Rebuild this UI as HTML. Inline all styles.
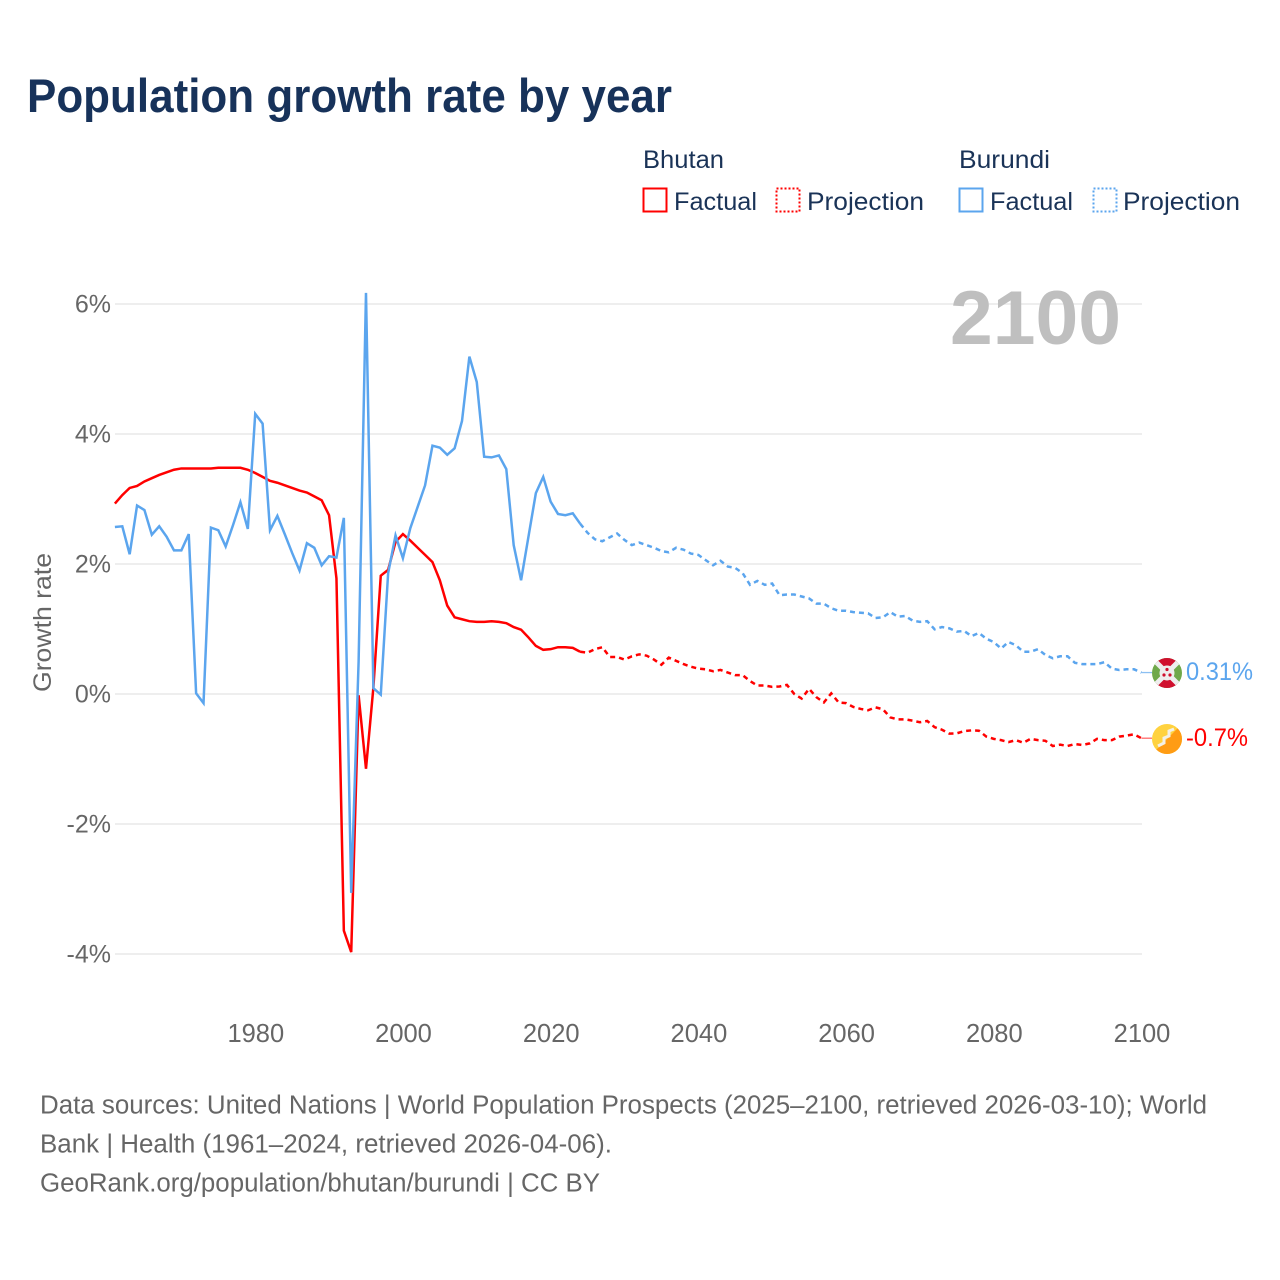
<!DOCTYPE html>
<html lang="en">
<head>
<meta charset="utf-8">
<title>Population growth rate by year</title>
<style>
html,body{margin:0;padding:0;background:#fff;}
svg{display:block;}
text{font-family:"Liberation Sans",sans-serif;}
</style>
</head>
<body>
<svg id="chart" width="1280" height="1280" viewBox="0 0 1280 1280" xmlns="http://www.w3.org/2000/svg">
<defs>
<clipPath id="flag-clip-burundi"><circle cx="1167" cy="673" r="15"/></clipPath>
<clipPath id="flag-clip-bhutan"><circle cx="1167" cy="739" r="15"/></clipPath>
</defs>
<rect x="0" y="0" width="1280" height="1280" fill="#ffffff"/>
<text x="27" y="112" font-size="47" font-weight="700" fill="#17325a" textLength="645" lengthAdjust="spacingAndGlyphs">Population growth rate by year</text>

<g>
<text x="643" y="168" font-size="25" fill="#1a3357" textLength="81" lengthAdjust="spacingAndGlyphs">Bhutan</text>
<rect x="643.5" y="188.5" width="23" height="23" fill="none" stroke="#ff0000" stroke-width="2"/>
<text x="674" y="210" font-size="25" fill="#1a3357" textLength="83" lengthAdjust="spacingAndGlyphs">Factual</text>
<rect x="776.5" y="188.5" width="23" height="23" fill="none" stroke="#ff0000" stroke-width="2" stroke-dasharray="2 2"/>
<text x="807" y="210" font-size="25" fill="#1a3357" textLength="117" lengthAdjust="spacingAndGlyphs">Projection</text>
<text x="959" y="168" font-size="25" fill="#1a3357" textLength="91" lengthAdjust="spacingAndGlyphs">Burundi</text>
<rect x="959.5" y="188.5" width="23" height="23" fill="none" stroke="#5ba5ee" stroke-width="2"/>
<text x="990" y="210" font-size="25" fill="#1a3357" textLength="83" lengthAdjust="spacingAndGlyphs">Factual</text>
<rect x="1093.5" y="188.5" width="23" height="23" fill="none" stroke="#5ba5ee" stroke-width="2" stroke-dasharray="2 2"/>
<text x="1123" y="210" font-size="25" fill="#1a3357" textLength="117" lengthAdjust="spacingAndGlyphs">Projection</text>
</g>

<g id="grid"></g>
<text x="950" y="344" font-size="76" font-weight="700" fill="#bfbfbf" textLength="171" lengthAdjust="spacingAndGlyphs">2100</text>
<g id="yticks"></g>
<g id="xticks"></g>
<text transform="translate(51,692) rotate(-90)" font-size="25" fill="#666666" textLength="139" lengthAdjust="spacingAndGlyphs">Growth rate</text>
<g id="series"></g>

<g>
<g clip-path="url(#flag-clip-burundi)">
<rect x="1152" y="658" width="30" height="30" fill="#6fa84a"/>
<path d="M1152 658H1182L1167 673Z" fill="#d0102e"/>
<path d="M1152 688H1182L1167 673Z" fill="#d0102e"/>
<path d="M1152 658L1182 688M1182 658L1152 688" stroke="#eeeeee" stroke-width="5"/>
<circle cx="1167" cy="673" r="7.5" fill="#eeeeee"/>
<circle cx="1167" cy="669.5" r="1.6" fill="#d0102e"/>
<circle cx="1164" cy="675" r="1.6" fill="#d0102e"/>
<circle cx="1170" cy="675" r="1.6" fill="#d0102e"/>
</g>
<text x="1186" y="680" font-size="25" fill="#5ba5ee" textLength="67" lengthAdjust="spacingAndGlyphs">0.31%</text>
</g>

<g>
<g clip-path="url(#flag-clip-bhutan)">
<rect x="1152" y="724" width="30" height="30" fill="#ffd23f"/>
<path d="M1182 724V754H1152Z" fill="#ff9c14"/>
<path d="M1174 729L1169 731L1169 736L1164 738L1164 743L1158 746" fill="none" stroke="#f4f0e6" stroke-width="3"/>
</g>
<text x="1186" y="746" font-size="25" fill="#ff0000" textLength="62" lengthAdjust="spacingAndGlyphs">-0.7%</text>
</g>

<g>
<text x="40" y="1113.5" font-size="25.5" fill="#666666" textLength="1167" lengthAdjust="spacingAndGlyphs">Data sources: United Nations | World Population Prospects (2025–2100, retrieved 2026-03-10); World</text>
<text x="40" y="1152.5" font-size="25.5" fill="#666666" textLength="572" lengthAdjust="spacingAndGlyphs">Bank | Health (1961–2024, retrieved 2026-04-06).</text>
<text x="40" y="1191.5" font-size="25.5" fill="#666666" textLength="560" lengthAdjust="spacingAndGlyphs">GeoRank.org/population/bhutan/burundi | CC BY</text>
</g>

<script>
const factualStartYear = 1961;
const projectionStartYear = 2024;
const yTicks = [-4, -2, 0, 2, 4, 6];
const xTicks = [1980, 2000, 2020, 2040, 2060, 2080, 2100];
const bhutanFactual = [
2.93,3.06,3.17,3.20,3.27,3.32,3.37,3.41,3.45,3.47,
3.47,3.47,3.47,3.47,3.48,3.48,3.48,3.48,3.45,3.40,
3.34,3.28,3.25,3.21,3.17,3.13,3.10,3.04,2.98,2.75,
1.78,-3.64,-3.97,-0.02,-1.15,0.10,1.82,1.91,2.34,2.46,
2.36,2.25,2.14,2.03,1.75,1.36,1.18,1.15,1.12,1.11,
1.11,1.12,1.11,1.09,1.03,0.99,0.87,0.74,0.68,0.69,
0.72,0.72,0.71,0.65];
const burundiFactual = [
2.57,2.58,2.15,2.90,2.83,2.45,2.58,2.42,2.21,2.21,
2.46,0.01,-0.14,2.56,2.52,2.27,2.60,2.95,2.54,4.31,
4.16,2.52,2.74,2.46,2.17,1.90,2.32,2.25,1.98,2.12,
2.10,2.71,-3.06,0.50,6.17,0.09,-0.01,1.86,2.44,2.09,
2.55,2.88,3.21,3.82,3.79,3.68,3.78,4.20,5.19,4.80,
3.65,3.64,3.67,3.46,2.29,1.75,2.42,3.09,3.34,2.96,
2.77,2.75,2.78,2.62];
const bhutanProjection = [
0.65,0.635,0.69,0.72,0.57,0.57,0.53,0.58,0.61,0.59,
0.53,0.45,0.56,0.51,0.46,0.42,0.39,0.38,0.35,0.37,
0.33,0.29,0.29,0.20,0.13,0.13,0.11,0.115,0.14,0.00,
-0.07,0.08,-0.05,-0.13,0.01,-0.13,-0.14,-0.20,-0.23,-0.25,
-0.205,-0.235,-0.36,-0.39,-0.39,-0.41,-0.435,-0.415,-0.51,-0.55,
-0.61,-0.605,-0.57,-0.56,-0.565,-0.655,-0.69,-0.71,-0.74,-0.71,
-0.75,-0.69,-0.71,-0.72,-0.80,-0.78,-0.80,-0.77,-0.785,-0.76,
-0.69,-0.71,-0.71,-0.655,-0.64,-0.62,-0.68];
const burundiProjection = [
2.62,2.48,2.38,2.35,2.41,2.47,2.37,2.29,2.33,2.29,
2.25,2.20,2.18,2.25,2.22,2.16,2.14,2.06,1.98,2.05,
1.96,1.94,1.86,1.68,1.74,1.68,1.70,1.52,1.53,1.53,
1.50,1.47,1.39,1.39,1.32,1.28,1.28,1.26,1.25,1.24,
1.17,1.18,1.26,1.19,1.20,1.13,1.11,1.12,0.995,1.03,
1.01,0.96,0.97,0.89,0.94,0.85,0.80,0.70,0.80,0.75,
0.65,0.65,0.69,0.60,0.55,0.58,0.58,0.48,0.46,0.46,
0.46,0.49,0.39,0.37,0.38,0.38,0.33];

const SVGNS = 'http://www.w3.org/2000/svg';
const xScale = function (year) { return 114.9 + (year - 1961) * 7.385; };
const yScale = function (value) { return 694 - value * 65; };

const gridGroup = document.getElementById('grid');
const yTickGroup = document.getElementById('yticks');
const xTickGroup = document.getElementById('xticks');
const seriesGroup = document.getElementById('series');

yTicks.forEach(function (tick) {
  const line = document.createElementNS(SVGNS, 'line');
  
  
  line.setAttribute('x1', 115);
  line.setAttribute('x2', 1142);
  line.setAttribute('y1', yScale(tick));
  line.setAttribute('y2', yScale(tick));
  line.setAttribute('stroke', '#e9e9e9');
  line.setAttribute('stroke-width', '1.5');
  gridGroup.appendChild(line);

  const label = document.createElementNS(SVGNS, 'text');
  
  
  label.setAttribute('x', 111);
  label.setAttribute('y', yScale(tick) + 8.7);
  label.setAttribute('text-anchor', 'end');
  label.setAttribute('font-size', '25');
  label.setAttribute('fill', '#666666');
  label.textContent = tick + '%';
  yTickGroup.appendChild(label);
});

xTicks.forEach(function (tick) {
  const label = document.createElementNS(SVGNS, 'text');
  
  
  label.setAttribute('x', xScale(tick) + 0.6);
  label.setAttribute('y', 1042);
  label.setAttribute('text-anchor', 'middle');
  label.setAttribute('font-size', '25.5');
  label.setAttribute('fill', '#666666');
  label.textContent = tick;
  xTickGroup.appendChild(label);
});

function buildPath(values, startYear) {
  return values.map(function (value, i) {
    return (i === 0 ? 'M' : 'L') + xScale(startYear + i).toFixed(2) + ' ' + yScale(value).toFixed(2);
  }).join('');
}

const bhutanFactualLine = document.createElementNS(SVGNS, 'path');


bhutanFactualLine.setAttribute('d', buildPath(bhutanFactual, factualStartYear));
bhutanFactualLine.setAttribute('fill', 'none');
bhutanFactualLine.setAttribute('stroke', '#ff0000');
bhutanFactualLine.setAttribute('stroke-width', '2.5');
seriesGroup.appendChild(bhutanFactualLine);

const bhutanProjectionLine = document.createElementNS(SVGNS, 'path');


bhutanProjectionLine.setAttribute('d', buildPath(bhutanProjection, projectionStartYear));
bhutanProjectionLine.setAttribute('fill', 'none');
bhutanProjectionLine.setAttribute('stroke', '#ff0000');
bhutanProjectionLine.setAttribute('stroke-width', '2.5');
bhutanProjectionLine.setAttribute('stroke-dasharray', '5 4');
seriesGroup.appendChild(bhutanProjectionLine);

const burundiFactualLine = document.createElementNS(SVGNS, 'path');


burundiFactualLine.setAttribute('d', buildPath(burundiFactual, factualStartYear));
burundiFactualLine.setAttribute('fill', 'none');
burundiFactualLine.setAttribute('stroke', '#5ba5ee');
burundiFactualLine.setAttribute('stroke-width', '2.5');
seriesGroup.appendChild(burundiFactualLine);

const burundiProjectionLine = document.createElementNS(SVGNS, 'path');


burundiProjectionLine.setAttribute('d', buildPath(burundiProjection, projectionStartYear));
burundiProjectionLine.setAttribute('fill', 'none');
burundiProjectionLine.setAttribute('stroke', '#5ba5ee');
burundiProjectionLine.setAttribute('stroke-width', '2.5');
burundiProjectionLine.setAttribute('stroke-dasharray', '5 4');
seriesGroup.appendChild(burundiProjectionLine);

const bhutanLeader = document.createElementNS(SVGNS, 'line');


bhutanLeader.setAttribute('x1', xScale(2100));
bhutanLeader.setAttribute('x2', 1152);
bhutanLeader.setAttribute('y1', yScale(bhutanProjection[bhutanProjection.length - 1]));
bhutanLeader.setAttribute('y2', yScale(bhutanProjection[bhutanProjection.length - 1]));
bhutanLeader.setAttribute('stroke', '#ff6a6a');
bhutanLeader.setAttribute('stroke-width', '1.3');
seriesGroup.appendChild(bhutanLeader);

const burundiLeader = document.createElementNS(SVGNS, 'line');


burundiLeader.setAttribute('x1', xScale(2100));
burundiLeader.setAttribute('x2', 1152);
burundiLeader.setAttribute('y1', yScale(burundiProjection[burundiProjection.length - 1]));
burundiLeader.setAttribute('y2', yScale(burundiProjection[burundiProjection.length - 1]));
burundiLeader.setAttribute('stroke', '#8cc0f2');
burundiLeader.setAttribute('stroke-width', '1.3');
seriesGroup.appendChild(burundiLeader);
</script>
</svg>
</body>
</html>
